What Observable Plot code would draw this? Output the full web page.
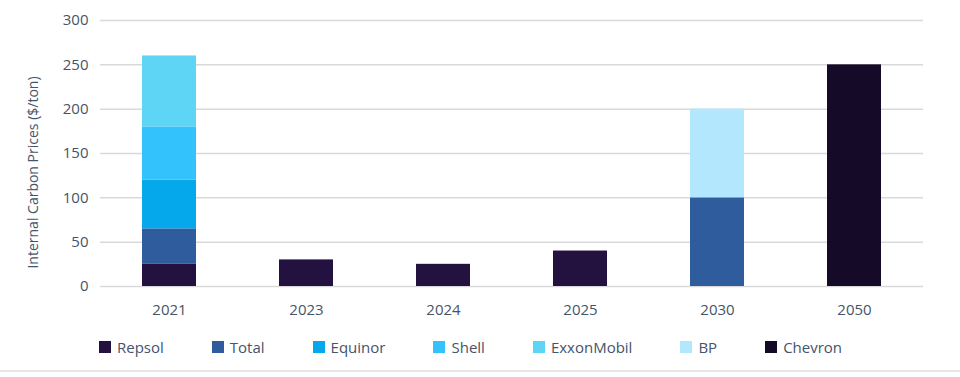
<!DOCTYPE html>
<html>
<head>
<meta charset="utf-8">
<script src="https://cdn.jsdelivr.net/npm/d3@7"></script>
<script src="https://cdn.jsdelivr.net/npm/@observablehq/plot@0.6"></script>
<style>
  html, body { margin: 0; padding: 0; background: #fff; }
  body { width: 960px; height: 377px; overflow: hidden; font-family: "Open Sans", sans-serif; }
  #chart svg { display: block; }
  #legend { display: flex; gap: 48px; padding-left: 99px; height: 34px; align-items: center; margin-top: 0px;
            font-size: 15px; color: #44546a; }
  #legend .item { display: flex; align-items: center; gap: 6px; }
  #legend .sw { width: 12px; height: 12px; display: inline-block; }
  #rule { border-top: 2px solid #e6e6e6; margin-top: 6px; }
</style>
</head>
<body>
<div id="chart"></div>
<div id="legend"></div>
<div id="rule"></div>
<script>
const years = ["2021", "2023", "2024", "2025", "2030", "2050"];
const companies = ["Repsol", "Total", "Equinor", "Shell", "ExxonMobil", "BP", "Chevron"];
const colors = ["#231140", "#2e5c9c", "#05a8eb", "#33c2fb", "#5fd5f6", "#b2e7fd", "#150b28"];
const yTicks = [0, 50, 100, 150, 200, 250, 300];

// values per company, aligned with years (null = no bar)
const repsol     = [25, 30, 25, 40, null, null];
const total      = [40, null, null, null, 100, null];
const equinor    = [55, null, null, null, null, null];
const shell      = [60, null, null, null, null, null];
const exxonmobil = [80, null, null, null, null, null];
const bp         = [null, null, null, null, 100, null];
const chevron    = [null, null, null, null, null, 250];

const series = [repsol, total, equinor, shell, exxonmobil, bp, chevron];
const data = [];
companies.forEach((c, i) => {
  years.forEach((y, j) => {
    const v = series[i][j];
    if (v != null) data.push({year: y, company: c, value: v});
  });
});

const chart = Plot.plot({
  width: 960,
  height: 330,
  marginLeft: 100,
  marginRight: 37,
  marginTop: 20,
  marginBottom: 44,
  style: {fontFamily: "'Open Sans', sans-serif", fontSize: "15px", color: "#44546a"},
  x: {domain: years, paddingInner: 0.607, paddingOuter: 0.3, label: null},
  y: {domain: [0, 300], ticks: yTicks, label: null},
  color: {domain: companies, range: colors},
  marks: [
    Plot.gridY(yTicks, {stroke: "#d9d9d9", strokeOpacity: 1, strokeWidth: 1.5}),
    Plot.barY(data, Plot.stackY({x: "year", y: "value", fill: "company", order: companies})),
    Plot.axisY({ticks: yTicks, tickSize: 0, tickPadding: 12, label: null, fontSize: 15}),
    Plot.axisX({tickSize: 0, tickPadding: 18, label: null, fontSize: 15}),
    Plot.text(["Internal Carbon Prices ($/ton)"], {
      frameAnchor: "left", dx: -67, dy: 19, rotate: -90, textAnchor: "middle", fontSize: 14, fill: "#44546a"
    })
  ]
});
document.getElementById("chart").appendChild(chart);

const legend = document.getElementById("legend");
companies.forEach((c, i) => {
  const it = document.createElement("div");
  it.className = "item";
  const sw = document.createElement("span");
  sw.className = "sw";
  sw.style.background = colors[i];
  const t = document.createElement("span");
  t.textContent = c;
  it.appendChild(sw); it.appendChild(t);
  legend.appendChild(it);
});
</script>
</body>
</html>
